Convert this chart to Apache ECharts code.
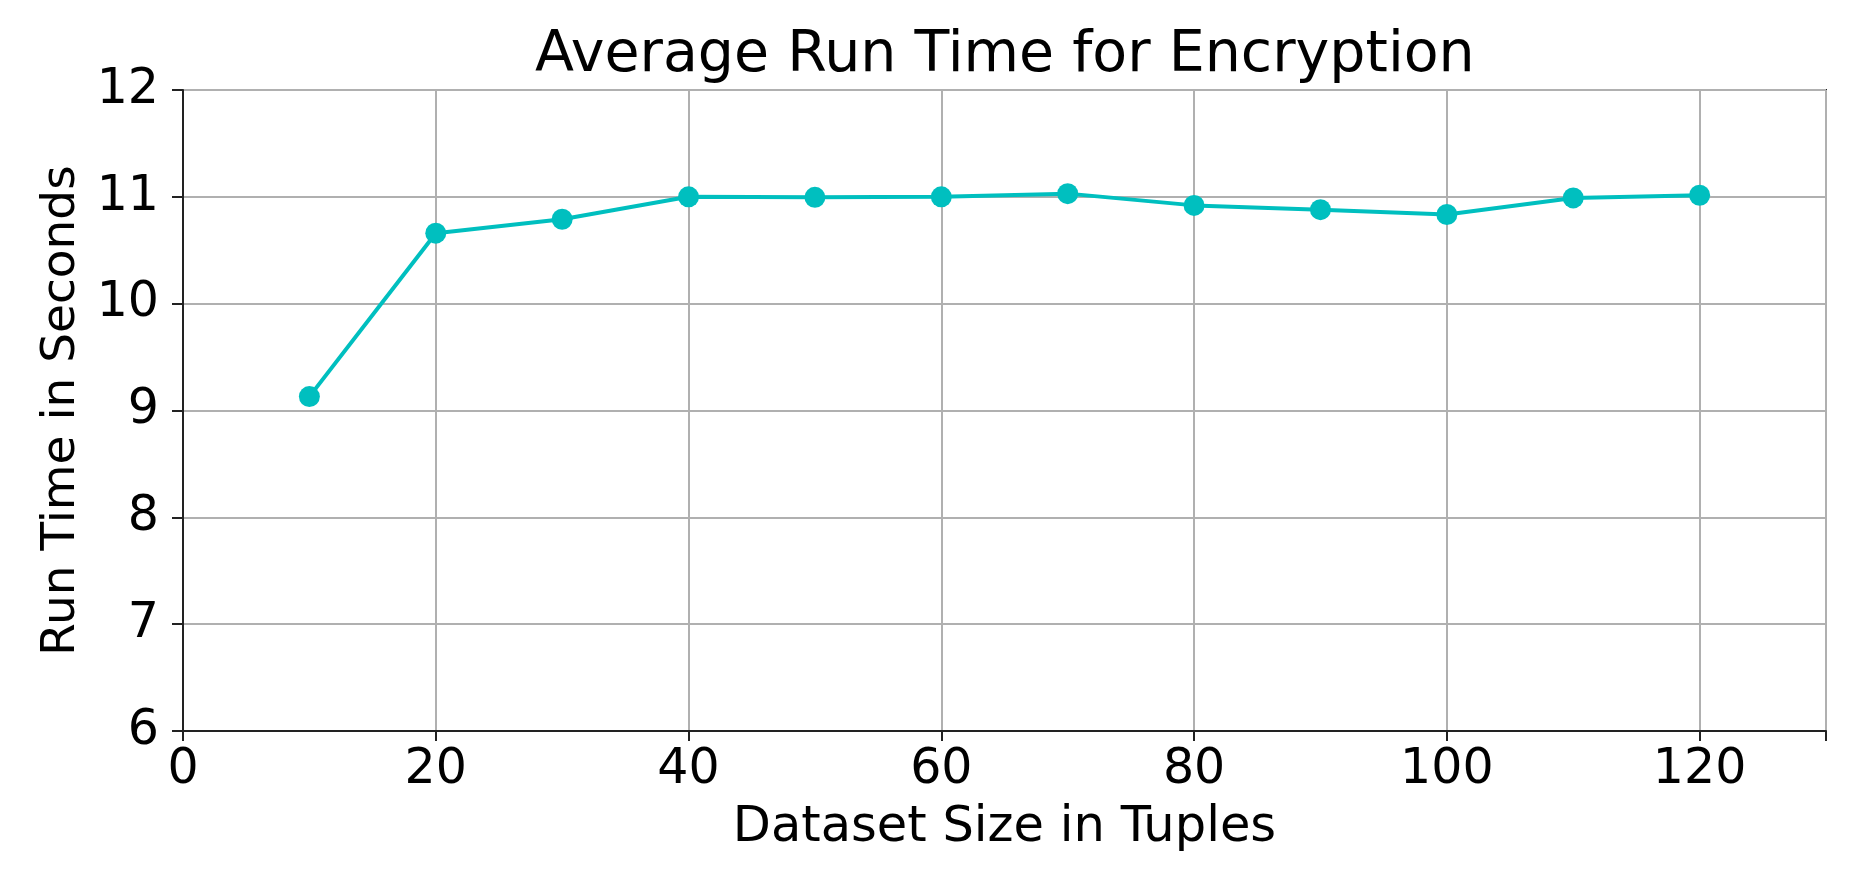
<!DOCTYPE html>
<html>
<head>
<meta charset="utf-8">
<script src="https://cdn.jsdelivr.net/npm/echarts@6/dist/echarts.min.js"></script>
<style>
html,body{margin:0;padding:0;background:#fff;}
#c{width:1859px;height:880px;}
</style>
</head>
<body>
<div id="c"></div>
<script>
const titleText = 'Average Run Time for Encryption';
const xLabel = 'Dataset Size in Tuples';
const yLabel = 'Run Time in Seconds';
const datasetSizes = [10, 20, 30, 40, 50, 60, 70, 80, 90, 100, 110, 120];
const runTimes = [9.13, 10.66, 10.79, 11.00, 10.995, 11.00, 11.03, 10.92, 10.88, 10.835, 10.99, 11.015];

const FONT = 'DejaVu Sans';
const chart = echarts.init(document.getElementById('c'), null, {renderer: 'canvas'});
chart.setOption({
  backgroundColor: '#ffffff',
  animation: false,
  title: {
    text: titleText,
    left: 530, top: 23,
    textStyle: {fontFamily: FONT, fontSize: 57, fontWeight: 'normal', color: '#000'}
  },
  grid: {left: 183, right: 33, top: 90, bottom: 149, containLabel: false, show: true, borderColor: '#222', borderWidth: 2},
  xAxis: {
    type: 'value', min: 0, max: 130, interval: 20,
    name: xLabel, nameLocation: 'middle', nameGap: 72,
    nameTextStyle: {fontFamily: FONT, fontSize: 49.5, color: '#000'},
    axisLine: {show: true, lineStyle: {color: '#222', width: 2}},
    axisTick: {show: true, length: 10, lineStyle: {color: '#222', width: 2}},
    axisLabel: {fontFamily: FONT, fontSize: 49, color: '#000', margin: 15,
      formatter: v => (v % 20 === 0 && v <= 120) ? String(v) : ''},
    splitLine: {show: true, lineStyle: {color: '#b0b0b0', width: 2}}
  },
  yAxis: {
    type: 'value', min: 6, max: 12, interval: 1,
    name: yLabel, nameLocation: 'middle', nameGap: 88,
    nameTextStyle: {fontFamily: FONT, fontSize: 47, color: '#000'},
    axisLine: {show: true, lineStyle: {color: '#222', width: 2}},
    axisTick: {show: true, length: 11, lineStyle: {color: '#222', width: 2}},
    axisLabel: {fontFamily: FONT, fontSize: 49, color: '#000', margin: 24},
    splitLine: {show: true, lineStyle: {color: '#b0b0b0', width: 2}}
  },
  series: [{
    type: 'line',
    data: datasetSizes.map((x, i) => [x, runTimes[i]]),
    symbol: 'circle', symbolSize: 21,
    lineStyle: {color: '#00bfbf', width: 4},
    itemStyle: {color: '#00bfbf'}
  }]
});
</script>
</body>
</html>
